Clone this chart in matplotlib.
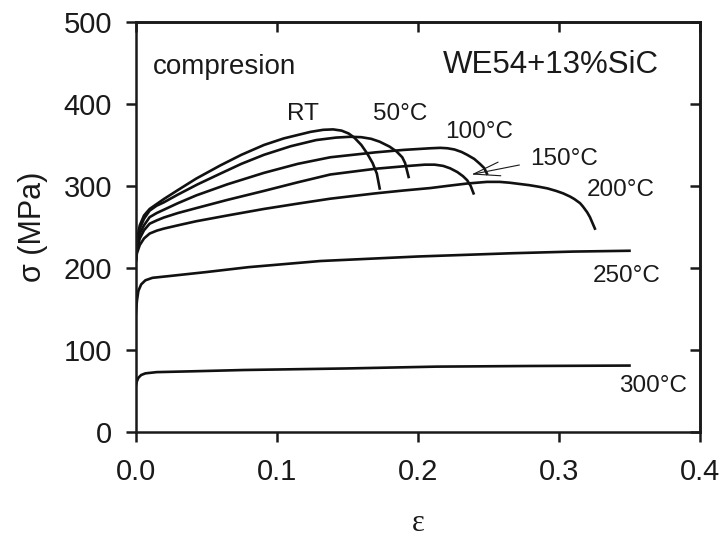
import matplotlib
matplotlib.use("Agg")
from matplotlib import pyplot as plt

# strain / stress, one pair of lists per temperature
eps_rt = [0, 0.001, 0.003, 0.006, 0.010, 0.015, 0.02, 0.03, 0.043, 0.06, 0.075, 0.091, 0.105,
          0.124, 0.133, 0.140, 0.146, 0.151, 0.155, 0.160, 0.164, 0.168, 0.171, 0.173]
sig_rt = [205, 235, 252, 264, 272, 278, 284, 295, 309, 325, 338, 350, 358,
          366, 368.5, 369, 367.5, 364, 359, 350, 340, 328, 315, 297]

eps_50 = [0, 0.001, 0.003, 0.006, 0.010, 0.015, 0.02, 0.03, 0.044, 0.06, 0.075, 0.091, 0.11,
          0.128, 0.142, 0.152, 0.160, 0.167, 0.173, 0.180, 0.185, 0.189, 0.191, 0.1935]
sig_50 = [205, 230, 248, 260, 270, 276, 280, 289.5, 302, 315, 327, 338, 348.5,
          356, 359, 360, 359.5, 357.5, 354, 348, 342, 335, 328, 311]

eps_100 = [0, 0.001, 0.003, 0.006, 0.010, 0.015, 0.02, 0.03, 0.043, 0.065, 0.091, 0.115, 0.138,
           0.17, 0.19, 0.209, 0.216, 0.221, 0.226, 0.231, 0.235, 0.240, 0.244, 0.247, 0.249]
sig_100 = [205, 225, 242, 252, 262, 267, 271, 279, 288.5, 302, 316, 327, 335,
           341, 344, 346, 346.5, 346, 344.5, 341.5, 338, 333, 327, 322, 315]

eps_150 = [0, 0.001, 0.003, 0.006, 0.010, 0.015, 0.02, 0.03, 0.043, 0.065, 0.091, 0.115, 0.138,
           0.17, 0.19, 0.205, 0.212, 0.218, 0.223, 0.228, 0.232, 0.235, 0.2375, 0.2395]
sig_150 = [205, 222, 236, 246, 254, 258, 261.5, 267, 273, 283, 294, 304.5, 314,
           321, 324, 326, 326, 324.5, 321.5, 317, 312, 307, 300, 291]

eps_200 = [0, 0.001, 0.003, 0.006, 0.010, 0.015, 0.02, 0.03, 0.043, 0.065, 0.091, 0.115, 0.138,
           0.17, 0.19, 0.209, 0.2205, 0.235, 0.249, 0.258, 0.265, 0.272, 0.279, 0.286, 0.292,
           0.298, 0.303, 0.308, 0.311, 0.315, 0.317, 0.320, 0.322, 0.3255]
sig_200 = [205, 218, 228, 236, 242, 245.5, 248, 252, 257, 264, 272, 278.5, 284.5,
           291, 294.5, 297.5, 300, 303, 305, 305, 304, 302.5, 301, 299, 297,
           294, 291, 287, 284, 279, 275, 268, 262, 248]

eps_250 = [0, 0.001, 0.002, 0.004, 0.007, 0.012, 0.023, 0.05, 0.08, 0.131, 0.2, 0.267, 0.31, 0.35]
sig_250 = [140, 160, 172, 180, 185, 188, 190, 195, 201, 208.5, 214, 218, 220, 221]

eps_300 = [0, 0.001, 0.002, 0.004, 0.007, 0.015, 0.04, 0.077, 0.15, 0.213, 0.28, 0.35]
sig_300 = [55, 62, 66, 69.5, 71.5, 73, 74, 75.6, 77.5, 79.7, 80.5, 81]

curves = [(eps_rt, sig_rt), (eps_50, sig_50), (eps_100, sig_100), (eps_150, sig_150),
          (eps_200, sig_200), (eps_250, sig_250), (eps_300, sig_300)]

temp_labels = ["RT", "50°C", "100°C", "150°C", "200°C", "250°C", "300°C"]
# label anchors (centre x, baseline y) in data units
label_pos = [(0.1183, 381), (0.1877, 380.5), (0.2433, 358.5), (0.3035, 325.6),
             (0.344, 287.8), (0.348, 183.3), (0.3665, 49)]

plt.rcParams['font.family'] = ['Liberation Sans', 'DejaVu Sans']

fig = plt.figure(figsize=(7.24, 5.44), dpi=100)
ax = fig.add_axes([0.1872, 0.2059, 0.7797, 0.7537])

for e, s in curves:
    ax.plot(e, s, color='#111111', lw=1.9, solid_joinstyle='round')

for txt, (x, y) in zip(temp_labels, label_pos):
    ax.text(x, y, txt, fontsize=17.5, ha='center', va='baseline', color='#1a1a1a')

ax.text(0.0124, 436.2, "compresion", fontsize=20, ha='left', va='baseline', color='#1a1a1a')
ax.text(0.2178, 437.4, "WE54+13%SiC", fontsize=22.5, ha='left', va='baseline', color='#1a1a1a')

# thin arrow from the 150°C label
ax.annotate("", xy=(0.238, 314), xytext=(0.272, 325.6),
            arrowprops=dict(arrowstyle='->,head_length=1.9,head_width=0.5',
                            lw=0.8, color='#1a1a1a', shrinkA=0, shrinkB=0))

ax.set_xlim(0, 0.4)
ax.set_ylim(0, 500)
ax.set_xticks([0.0, 0.1, 0.2, 0.3, 0.4])
ax.set_xticklabels(["0.0", "0.1", "0.2", "0.3", "0.4"])
ax.set_yticks([0, 100, 200, 300, 400, 500])

for sp in ax.spines.values():
    sp.set_linewidth(1.8)
    sp.set_color('#1a1a1a')

ax.tick_params(axis='both', direction='out', length=7, width=1.8, labelsize=21,
               colors='#1a1a1a')
ax.tick_params(axis='y', pad=10)
ax.tick_params(axis='x', pad=12)

# inward ticks on the top and right sides
top = ax.secondary_xaxis('top')
top.set_xticks([0.0, 0.1, 0.2, 0.3, 0.4])
top.tick_params(direction='in', length=7, width=1.8, labeltop=False, colors='#1a1a1a')
top.spines['top'].set_linewidth(1.8)
right = ax.secondary_yaxis('right')
right.set_yticks([0, 100, 200, 300, 400, 500])
right.tick_params(direction='in', length=7, width=1.8, labelright=False, colors='#1a1a1a')
right.spines['right'].set_linewidth(1.8)

ax.set_ylabel("σ (MPa)", fontsize=22, color='#1a1a1a')
ax.yaxis.set_label_coords(-0.182, 0.5)
ax.yaxis.label.set_va('center')
ax.set_xlabel("ε", fontsize=22, family=['Liberation Serif', 'DejaVu Serif'], color='#1a1a1a')
ax.xaxis.set_label_coords(0.5, -0.222)
ax.xaxis.label.set_va('center')

fig.savefig("out.png", dpi=100)
